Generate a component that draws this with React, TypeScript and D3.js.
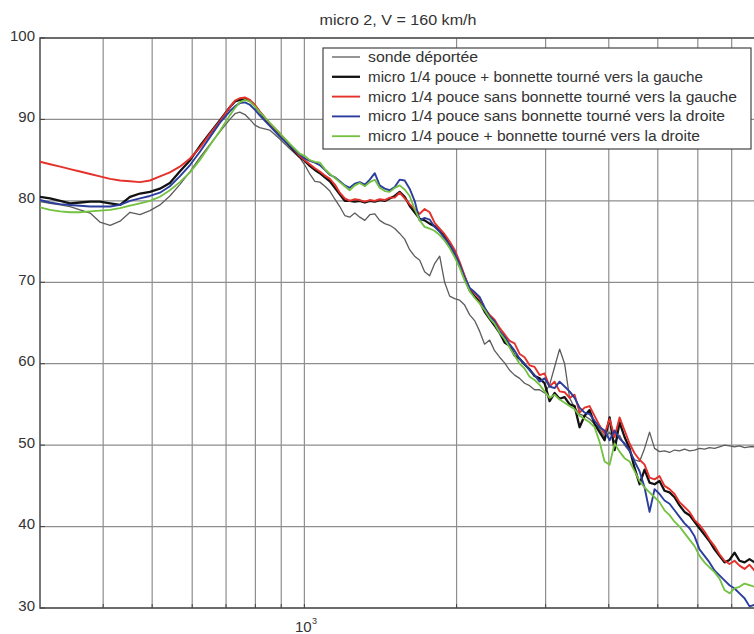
import { useEffect, useRef } from "react";
import * as d3 from "d3";

// frequences (Hz), grille commune a toutes les courbes
const freqs = [
  300, 314, 329, 344, 360, 377, 394, 413, 432, 452,
  473, 495, 518, 542, 567, 594, 621, 650, 681, 712,
  729, 745, 763, 780, 798, 816, 854, 894, 936, 979,
  1002, 1025, 1049, 1073, 1098, 1123, 1149, 1175, 1202, 1229,
  1258, 1287, 1317, 1347, 1378, 1409, 1442, 1475, 1509, 1543,
  1579, 1615, 1652, 1691, 1729, 1769, 1810, 1852, 1894, 1938,
  1982, 2028, 2075, 2123, 2171, 2221,
  2272, 2325, 2378, 2433, 2489, 2546, 2605, 2665, 2726, 2789,
  2853, 2919, 2986, 3055, 3125, 3197, 3271, 3346, 3423, 3502,
  3582, 3665, 3749, 3836, 3924, 4015, 4107, 4201, 4298, 4397,
  4498, 4602, 4708, 4816, 4927, 5040, 5156, 5275, 5396, 5520,
  5648, 5777, 5911, 6046, 6186, 6328, 6474, 6623, 6776, 6931,
  7092, 7254, 7422, 7592, 7767,
];

const sonde = [
  79.9, 79.7, 79.5, 79.3, 78.9, 78.5, 77.4, 77.0, 77.5, 78.6,
  78.3, 78.8, 79.5, 80.6, 82.0, 83.6, 85.3, 86.9, 88.5, 90.0,
  90.7, 90.9, 90.6, 90.0, 89.3, 89.0, 88.7, 87.6, 86.4, 85.3,
  84.4, 83.3, 82.4, 82.3, 81.8, 81.2, 80.2, 79.3, 78.2, 78.0,
  78.5, 78.0, 77.6, 78.3, 78.4, 77.6, 77.2, 77.0, 76.6, 76.0,
  75.3, 74.0, 73.2, 72.7, 71.3, 70.8, 72.3, 73.2, 70.0, 68.3,
  68.0, 67.8, 67.2, 66.0, 65.3, 64.0,
  62.4, 62.9, 61.6, 60.8, 60.1, 59.2, 58.6, 58.2, 57.6, 57.3,
  56.8, 56.8, 56.4, 57.4, 59.6, 61.8, 60.0, 55.8, 54.6, 53.8,
  53.6, 53.2, 52.6, 52.0, 51.0, 51.6, 50.4, 51.2, 50.0, 49.2,
  48.2, 48.0, 49.6, 51.6, 49.6, 49.2, 49.3, 49.1, 49.4, 49.3,
  49.5, 49.3, 49.4, 49.6, 49.5, 49.7, 49.6, 49.8, 50.0, 49.9,
  49.8, 49.9, 49.7, 49.8, 49.8,
];

const noirGauche = [
  80.5, 80.3, 80.0, 79.7, 79.8, 79.9, 79.9, 79.7, 79.5, 80.5,
  80.9, 81.1, 81.5, 82.2, 83.6, 85.0, 86.7, 88.3, 89.9, 91.5,
  92.2, 92.4, 92.5, 92.3, 91.7, 90.9, 89.4, 88.0, 86.7, 85.4,
  84.9, 84.3, 83.8, 83.4, 82.9, 82.4, 81.6, 80.8, 80.0, 80.0,
  79.9, 80.0, 79.8, 80.0, 79.9, 80.1, 80.0, 80.3, 80.6, 81.1,
  80.5, 79.4, 78.6, 77.8, 77.6, 77.2, 76.9, 76.3, 75.6, 74.6,
  73.5, 72.2, 70.6, 69.0, 68.3, 67.6,
  66.4, 65.5, 64.7, 63.8, 62.6, 62.2, 61.0, 60.6, 59.9, 59.3,
  58.5, 58.2, 57.6, 55.4, 56.4, 55.7, 55.9, 55.0, 54.8, 52.2,
  53.6, 54.3, 52.6, 51.6, 50.6, 53.4, 49.4, 52.8, 51.0, 49.6,
  47.2, 45.2, 47.0, 45.4, 45.2, 45.6, 44.4, 44.2, 43.6, 42.6,
  41.8, 41.4, 40.6, 39.8, 39.0, 38.2, 37.2, 36.4, 35.6, 35.9,
  36.8, 35.8, 35.6, 36.0, 35.6,
];

const rougeGauche = [
  84.8, 84.5, 84.2, 83.9, 83.6, 83.3, 83.0, 82.7, 82.5, 82.4,
  82.3, 82.5, 83.0, 83.5, 84.2, 85.2, 86.5, 88.2, 89.8, 91.5,
  92.3, 92.6, 92.7, 92.4, 91.8, 91.0, 89.5, 88.3, 86.9, 85.5,
  85.0, 84.5, 84.0, 83.6, 83.1, 82.7, 82.0, 81.0, 80.3, 80.0,
  80.2, 80.1, 79.9, 80.1, 80.0, 80.2, 80.1, 80.4, 80.4, 81.0,
  80.3, 79.6, 79.0, 78.4, 79.0, 78.6, 77.3, 76.6, 75.9, 75.0,
  74.0, 72.5, 70.8, 69.2, 68.7, 68.0,
  66.8, 66.0, 65.4, 64.4, 63.6, 62.8, 62.5, 61.2, 60.8, 59.8,
  59.6, 58.6, 58.8, 57.2, 57.8, 56.6, 56.5, 55.8, 56.2, 54.0,
  54.6, 54.8, 53.6, 52.4, 51.4, 53.2, 51.0, 53.4, 51.8, 50.2,
  49.0, 48.2, 47.6, 46.0, 45.8, 46.2, 45.0, 44.6, 44.0, 43.0,
  42.4, 41.8, 40.8, 40.2, 39.4, 38.4, 37.6, 36.6, 35.8, 35.4,
  35.8, 35.2, 34.8, 35.3, 34.6,
];

const bleuDroite = [
  80.1, 79.8, 79.6, 79.5, 79.4, 79.3, 79.3, 79.3, 79.5, 80.0,
  80.3, 80.6, 81.0, 81.8, 83.0, 84.4, 86.0, 87.8, 89.6, 91.0,
  91.6, 92.0, 92.1, 91.8, 91.2, 90.5, 89.2, 87.9, 86.8, 85.7,
  85.2, 84.9, 84.7, 84.4, 83.8, 83.2, 82.9, 82.4, 81.9, 81.6,
  82.1, 82.3, 82.0, 82.6, 83.4, 81.9, 81.5, 81.3, 81.7, 82.6,
  82.5, 81.5, 80.0, 77.6, 77.9, 77.7, 76.8, 76.2, 75.4, 74.6,
  73.6, 72.2, 70.6, 69.3, 68.8, 68.2,
  66.9, 65.8, 65.2, 64.0, 63.3, 62.4, 61.6, 60.6, 60.0, 59.2,
  58.6, 57.8, 58.2, 57.2, 57.0, 57.8, 57.2, 56.6, 55.8, 54.6,
  54.0, 53.8, 53.0, 52.2, 51.8, 50.6, 51.8, 50.8, 50.2, 49.4,
  48.0, 46.8, 44.8, 41.8, 44.6, 44.0, 43.2, 42.8, 42.0, 41.2,
  40.4, 39.8, 38.8, 37.2, 36.4, 35.6, 34.6, 34.0, 33.4, 32.8,
  32.4, 31.8, 31.2, 30.2, 30.4,
];

const vertDroite = [
  79.2, 78.9, 78.7, 78.6, 78.6, 78.7, 78.8, 78.9, 79.1, 79.4,
  79.7, 80.0, 80.5, 81.3, 82.3, 83.5, 85.0, 86.8, 88.6, 90.5,
  91.4, 92.1, 92.4, 92.2, 91.6, 90.9, 89.6, 88.3, 87.0, 85.8,
  85.5, 85.0, 84.8, 84.7, 83.9, 83.3, 82.8, 82.3, 81.8, 81.3,
  81.9, 82.2, 81.8, 82.3, 82.6, 81.6, 81.2, 81.1, 81.6, 81.9,
  81.4, 80.6, 79.0, 77.6, 76.8, 76.6, 76.3, 75.8, 75.1, 74.2,
  73.1, 71.8, 70.2, 68.9, 68.1, 67.4,
  66.6, 65.6, 64.9, 63.8, 63.0, 62.0, 61.0, 60.0, 59.4, 58.4,
  58.0, 57.4, 56.6, 55.8, 56.2, 55.6, 55.2, 54.8, 54.4, 53.6,
  53.2, 52.8, 52.2, 50.4, 48.0, 47.6, 50.2, 49.2, 48.4, 48.0,
  46.8, 45.6, 44.8, 44.2, 43.6, 43.0, 42.0, 41.4, 40.6, 40.0,
  39.2, 38.4, 37.6, 36.4, 35.6, 35.0, 34.4, 33.6, 32.2, 31.8,
  32.4, 32.6, 33.0, 32.8, 32.6,
];

const legendLabels = [
  "sonde déportée",
  "micro 1/4 pouce + bonnette tourné vers la gauche",
  "micro 1/4 pouce sans bonnette tourné vers la gauche",
  "micro 1/4 pouce sans bonnette tourné vers la droite",
  "micro 1/4 pouce + bonnette tourné vers la droite",
];
const legendWidths = [110, 335, 369, 357, 332];

const yTicks = [30, 40, 50, 60, 70, 80, 90, 100];
const xGrid = [400, 500, 600, 700, 800, 900, 1000, 2000, 3000, 4000, 5000, 6000, 7000];

const FONT = "'Liberation Sans', Arial, Helvetica, sans-serif";

export default function App() {
  const svgRef = useRef<SVGSVGElement>(null);

  useEffect(() => {
    const svg = d3.select(svgRef.current);
    svg.selectAll("*").remove();

    const left = 40, right = 761, top = 38, bottom = 608;

    const x = d3.scaleLog().domain([300, 8000]).range([left, right]);
    const y = d3.scaleLinear().domain([30, 100]).range([bottom, top]);

    svg.append("rect").attr("width", 754).attr("height", 634).attr("fill", "white");

    // grille
    const grid = svg.append("g").attr("stroke", "#8e8e8e").attr("stroke-width", 1.2);
    xGrid.forEach(f => {
      grid.append("line").attr("x1", x(f)).attr("x2", x(f)).attr("y1", top).attr("y2", bottom);
    });
    yTicks.forEach(v => {
      grid.append("line").attr("x1", left).attr("x2", right).attr("y1", y(v)).attr("y2", y(v));
    });

    // cadre
    svg.append("rect")
      .attr("x", left).attr("y", top)
      .attr("width", right - left).attr("height", bottom - top)
      .attr("fill", "none").attr("stroke", "#555").attr("stroke-width", 1.6);

    // graduations
    yTicks.forEach(v => {
      svg.append("line").attr("x1", left).attr("x2", left + 5)
        .attr("y1", y(v)).attr("y2", y(v)).attr("stroke", "#444");
      svg.append("text")
        .attr("x", 35).attr("y", y(v) + 2.5)
        .attr("text-anchor", "end")
        .attr("font-family", FONT).attr("font-size", 15).attr("fill", "#333")
        .text(String(v));
    });
    xGrid.forEach(f => {
      svg.append("line").attr("x1", x(f)).attr("x2", x(f))
        .attr("y1", bottom).attr("y2", bottom - 4).attr("stroke", "#444");
    });
    svg.append("text").attr("x", 295).attr("y", 632)
      .attr("font-family", FONT).attr("font-size", 15).attr("fill", "#333").text("10");
    svg.append("text").attr("x", 312).attr("y", 624)
      .attr("font-family", FONT).attr("font-size", 9).attr("fill", "#333").text("3");

    // titre
    svg.append("text")
      .attr("x", 398).attr("y", 25)
      .attr("text-anchor", "middle")
      .attr("font-family", FONT).attr("font-size", 14).attr("fill", "#333")
      .attr("textLength", 157).attr("lengthAdjust", "spacingAndGlyphs")
      .text("micro 2, V = 160 km/h");

    // courbes
    svg.append("clipPath").attr("id", "plotclip")
      .append("rect").attr("x", left).attr("y", top)
      .attr("width", right - left).attr("height", bottom - top);

    const series = [
      { values: sonde, color: "#5c5c5c", width: 1.3 },
      { values: noirGauche, color: "#121212", width: 2.3 },
      { values: rougeGauche, color: "#e5312b", width: 1.9 },
      { values: bleuDroite, color: "#2b3d9e", width: 1.9 },
      { values: vertDroite, color: "#72c13f", width: 1.8 },
    ];

    const line = d3.line<[number, number]>()
      .x(d => x(d[0]))
      .y(d => y(d[1]));

    const lines = svg.append("g").attr("clip-path", "url(#plotclip)");
    series.forEach(s => {
      const pts: [number, number][] = s.values
        .slice(0, freqs.length)
        .map((v, i) => [freqs[i], v]);
      lines.append("path")
        .datum(pts)
        .attr("fill", "none")
        .attr("stroke", s.color)
        .attr("stroke-width", s.width)
        .attr("stroke-linejoin", "round")
        .attr("d", line);
    });

    // legende
    const lg = svg.append("g");
    lg.append("rect")
      .attr("x", 323).attr("y", 48).attr("width", 428).attr("height", 101)
      .attr("fill", "white").attr("stroke", "#444").attr("stroke-width", 1.2);
    series.forEach((s, i) => {
      const cy = 57 + i * 19.8;
      lg.append("line")
        .attr("x1", 332).attr("x2", 360).attr("y1", cy).attr("y2", cy)
        .attr("stroke", s.color).attr("stroke-width", s.width);
      lg.append("text")
        .attr("x", 368).attr("y", cy + 5)
        .attr("font-family", FONT).attr("font-size", 14).attr("fill", "#333")
        .attr("textLength", legendWidths[i]).attr("lengthAdjust", "spacingAndGlyphs")
        .text(legendLabels[i]);
    });
  }, []);

  return (
    <svg
      ref={svgRef}
      width={754}
      height={634}
      style={{ position: "absolute", left: 0, top: 0, display: "block" }}
    />
  );
}
